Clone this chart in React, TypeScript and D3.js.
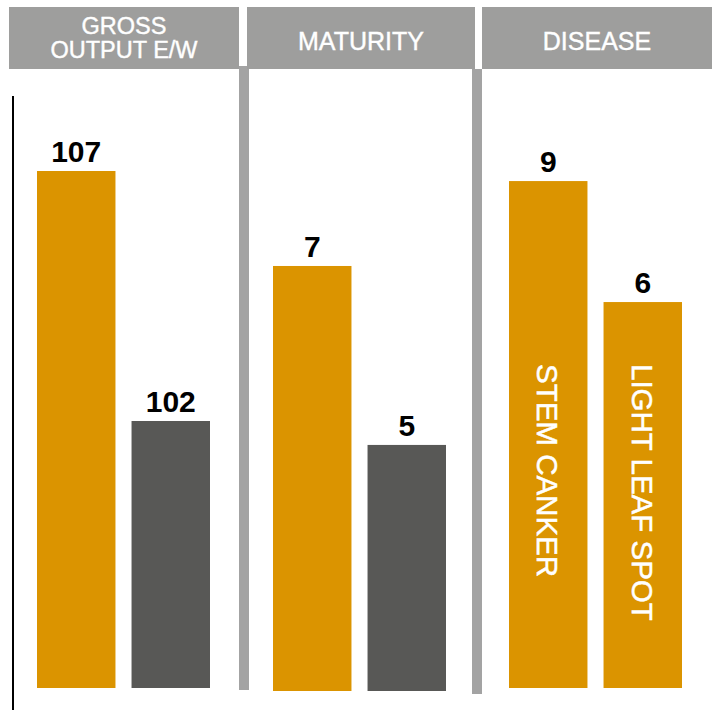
import React from "react";
import * as d3 from "d3";

// panel headers
const panelTitles = [["GROSS", "OUTPUT E/W"], ["MATURITY"], ["DISEASE"]];
// bar values per panel
const panelValues = [
  [107, 102],
  [7, 5],
  [9, 6],
];
// which bars are the "other" series (dark grey)
const panelKinds = [
  ["main", "other"],
  ["main", "other"],
  ["main", "main"],
];
// inside-bar labels
const panelBarLabels = [
  ["", ""],
  ["", ""],
  ["STEM CANKER", "LIGHT LEAF SPOT"],
];
// each panel has its own value axis
const panelDomains = [
  [96.66, 108.42],
  [2.25, 8.855],
  [-3.57, 11.01],
];

const W = 717;
const H = 710;
const ORANGE = "#db9400";
const DARK = "#585856";
const HEAD = "#9e9e9d";
const SEP = "#a3a3a3";

const panels = [
  { x0: 9, x1: 239, b0: 37, b1: 210, bottom: 688 },
  { x0: 247, x1: 475, b0: 273, b1: 446, bottom: 691 },
  { x0: 482, x1: 712, b0: 509, b1: 682, bottom: 688 },
];
const plotTop = 100;

const App: React.FC = () => {
  return (
    <svg
      width={W}
      height={H}
      style={{ position: "absolute", left: 0, top: 0 }}
      fontFamily="'Liberation Sans', Arial, sans-serif"
    >
      <rect width={W} height={H} fill="#fff" />

      {/* left axis line */}
      <line x1={13} x2={13} y1={96} y2={H} stroke="#000" strokeWidth={2} />

      {/* separators */}
      <rect x={239} y={66} width={10} height={624} fill={SEP} />
      <rect x={472} y={69} width={10} height={625} fill={SEP} />

      {panels.map((p, i) => {
        const y = d3
          .scaleLinear()
          .domain(panelDomains[i])
          .range([p.bottom, plotTop]);
        const x = d3
          .scaleBand<number>()
          .domain(panelValues[i].map((_, j) => j))
          .range([p.b0, p.b1])
          .paddingInner(0.17);
        const cx = (p.x0 + p.x1) / 2;
        const lines = panelTitles[i];
        return (
          <g key={i}>
            <rect x={p.x0} y={7} width={p.x1 - p.x0} height={62} fill={HEAD} />
            {lines.map((t, k) => (
              <text
                key={k}
                x={cx}
                y={lines.length === 1 ? 50 : 34 + k * 24}
                textAnchor="middle"
                fill="#fff"
                stroke="#fff"
                strokeWidth={0.4}
                fontSize={lines.length === 1 ? 25 : 23.5}
              >
                {t}
              </text>
            ))}
            {panelValues[i].map((v, j) => {
              const bx = x(j)!;
              const bw = x.bandwidth();
              const top = y(v);
              const label = panelBarLabels[i][j];
              return (
                <g key={j}>
                  <rect
                    x={bx}
                    y={top}
                    width={bw}
                    height={p.bottom - top}
                    fill={panelKinds[i][j] === "main" ? ORANGE : DARK}
                  />
                  <text
                    x={bx + bw / 2}
                    y={top - 9}
                    textAnchor="middle"
                    fontSize={30}
                    fontWeight="bold"
                    fill="#000"
                  >
                    {v}
                  </text>
                  {label && (
                    <text
                      transform={`translate(${bx + bw / 2 - 11},364) rotate(90)`}
                      fill="#fff"
                      stroke="#fff"
                      strokeWidth={0.5}
                      fontSize={29.5}
                    >
                      {label}
                    </text>
                  )}
                </g>
              );
            })}
          </g>
        );
      })}
    </svg>
  );
};

export default App;
